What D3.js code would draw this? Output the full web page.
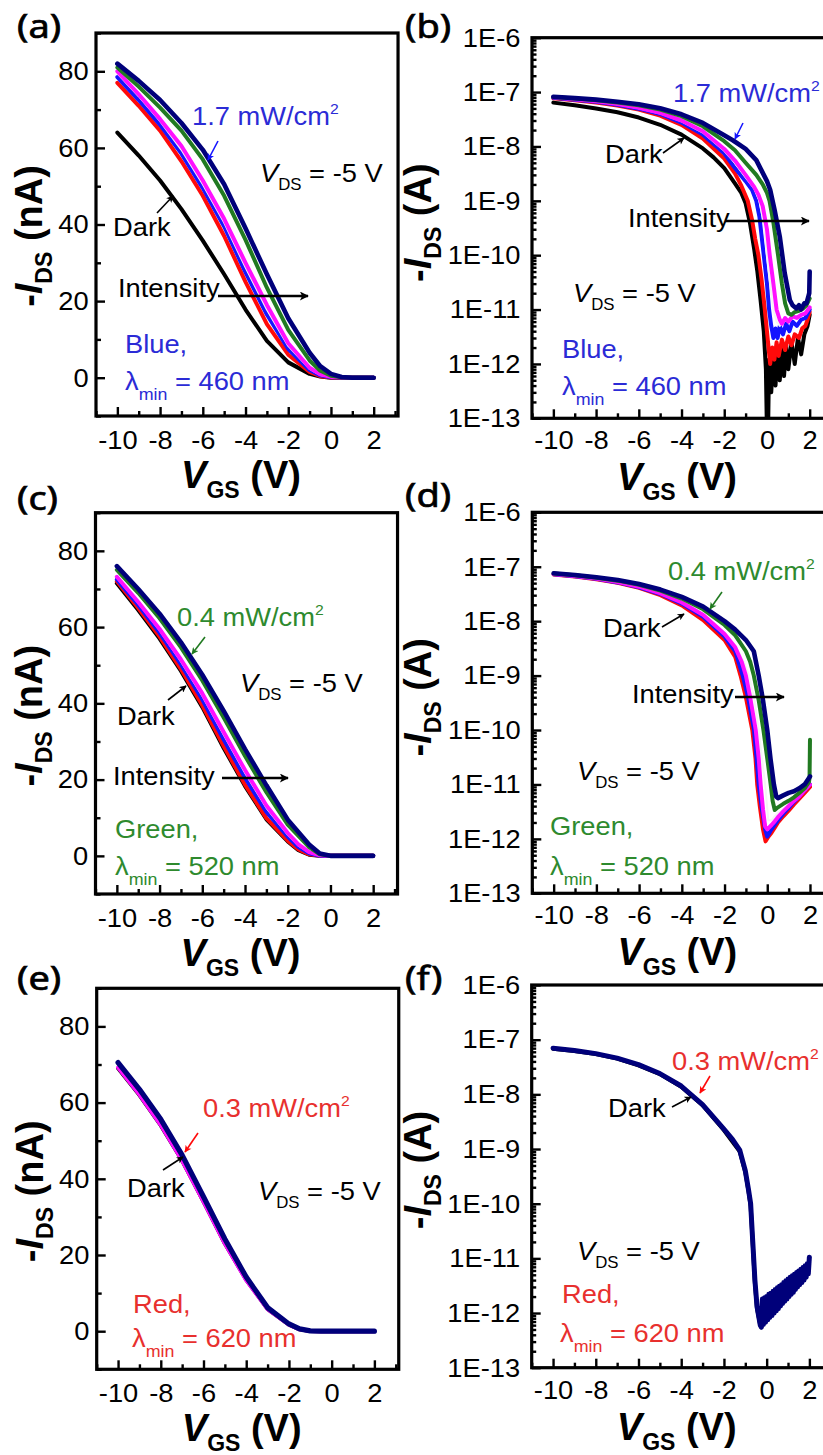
<!DOCTYPE html>
<html><head><meta charset="utf-8">
<script src="https://cdn.jsdelivr.net/npm/d3@7"></script>
<style>body{margin:0;background:#fff}svg text{font-family:"Liberation Sans",Arial,sans-serif}</style>
</head><body>
<svg id="c" width="823" height="1455" xmlns="http://www.w3.org/2000/svg"></svg>
<script>
// ---------------- DATA (V_GS in V; linear panels in nA, log panels in A) ----------------
const xTicks = [-10, -8, -6, -4, -2, 0, 2];
const xMinor = [-11, -9, -7, -5, -3, -1, 1, 3];
const linTicks = [0, 20, 40, 60, 80];
const linMinor = [-10, 10, 30, 50, 70, 90];
const logTicks = [1e-6, 1e-7, 1e-8, 1e-9, 1e-10, 1e-11, 1e-12, 1e-13];

// (a) blue light, linear
const a_black = [[-10,64],[-9,58],[-8,51.5],[-7,44],[-6,35.8],[-5,27],[-4,17.8],[-3,9.6],[-2,4],[-1,1],[-0.5,0.3],[0,0],[2,0]];
const a_red = [[-10,77],[-9,71],[-8,64.5],[-7,56.5],[-6,47.5],[-5,37],[-4,25],[-3,14],[-2,6],[-1,1.5],[-0.5,0.4],[0,0.05],[2,0]];
const a_blue = [[-10,78.5],[-9,72.5],[-8,66],[-7,58.5],[-6,49.5],[-5,39.5],[-4,27.5],[-3,16.5],[-2,7.5],[-1,2],[-0.5,0.6],[0,0.1],[2,0]];
const a_white = [[-10,79.5],[-9,73.5],[-8,67],[-7,59.5],[-6,50.5],[-5,40.5],[-4,28.8],[-3,17.8],[-2,8.3],[-1,2.3],[-0.5,0.7],[0,0.15],[2,0]];
const a_magenta = [[-10,80],[-9,74],[-8,67.5],[-7,60.5],[-6,51.5],[-5,41.5],[-4,30],[-3,19],[-2,9],[-1,2.6],[-0.5,0.9],[0,0.2],[2,0]];
const a_green = [[-10,81],[-9,76],[-8,70.5],[-7,64.5],[-6,57],[-5,47.5],[-4,36],[-3,23.5],[-2,12.5],[-1,4.5],[-0.5,1.8],[0,0.5],[0.5,0.1],[2,0]];
const a_navy = [[-10,82],[-9,77.5],[-8,72.5],[-7,66.5],[-6,59.5],[-5,50.5],[-4,39],[-3,27],[-2,15.5],[-1,6.5],[-0.5,3],[0,1],[0.5,0.2],[1,0],[2,0]];

// (b) blue light, log
const b_black = [[-10,6.4e-8],[-9,5.7e-8],[-8,5.0e-8],[-7,4.25e-8],[-6,3.4e-8],[-5,2.5e-8],[-4,1.65e-8],[-3,9.2e-9],[-2.5,6.3e-9],[-2,4e-9],[-1.5,2.1e-9],[-1.2,1.4e-9],[-1,9e-10],[-0.8,4e-10],[-0.6,1.3e-10],[-0.45,5e-11],[-0.3,1.5e-11],[-0.15,4e-12],[-0.05,8e-13],[0,5e-14],[0.05,5e-14],[0.1,1.2e-12],[0.2,3e-13],[0.3,1.5e-12],[0.4,4e-13],[0.5,1.8e-12],[0.6,5e-13],[0.7,2e-12],[0.8,6e-13],[0.9,2.2e-12],[1.0,8e-13],[1.15,2.5e-12],[1.3,1e-12],[1.45,3e-12],[1.6,1.5e-12],[1.75,3.5e-12],[1.9,5e-12],[2.0,8e-12]];
const b_red = [[-10,7.7e-8],[-9,7.1e-8],[-8,6.45e-8],[-7,5.65e-8],[-6,4.75e-8],[-5,3.7e-8],[-4,2.5e-8],[-3,1.4e-8],[-2,6e-9],[-1.5,3.2e-9],[-1.2,1.9e-9],[-0.9,1e-9],[-0.7,4.5e-10],[-0.55,2e-10],[-0.4,1e-10],[-0.25,3.5e-11],[-0.1,1e-11],[0.05,2.5e-12],[0.15,1e-12],[0.25,2e-12],[0.35,1.2e-12],[0.45,2.5e-12],[0.55,1.4e-12],[0.7,2.8e-12],[0.85,1.8e-12],[1.0,3.2e-12],[1.15,2.2e-12],[1.3,3.5e-12],[1.5,3e-12],[1.65,4.5e-12],[1.8,5e-12],[1.9,6.5e-12],[2.0,9e-12]];
const b_blue = [[-10,7.85e-8],[-9,7.25e-8],[-8,6.6e-8],[-7,5.85e-8],[-6,4.95e-8],[-5,3.95e-8],[-4,2.75e-8],[-3,1.65e-8],[-2,7.5e-9],[-1.5,4e-9],[-1,2.3e-9],[-0.7,1.6e-9],[-0.5,1e-9],[-0.35,5e-10],[-0.15,1e-10],[0,3e-11],[0.1,1e-11],[0.2,5e-12],[0.3,3e-12],[0.4,4.5e-12],[0.5,3e-12],[0.6,5e-12],[0.75,3.5e-12],[0.9,5.5e-12],[1.05,4e-12],[1.2,6e-12],[1.4,5e-12],[1.6,6.5e-12],[1.8,7e-12],[2.0,1e-11]];
const b_white = [[-10,7.95e-8],[-9,7.35e-8],[-8,6.7e-8],[-7,5.95e-8],[-6,5.05e-8],[-5,4.05e-8],[-4,2.9e-8],[-3,1.8e-8],[-2,8.3e-9],[-1.5,5e-9],[-1,2.7e-9],[-0.6,1.7e-9],[-0.35,1e-9],[-0.15,4e-10],[0,1e-10],[0.15,3e-11],[0.3,1e-11],[0.45,6e-12],[0.6,5e-12],[0.8,6.5e-12],[1.0,6e-12],[1.3,7.5e-12],[1.6,8e-12],[2.0,1.05e-11]];
const b_magenta = [[-10,8.0e-8],[-9,7.4e-8],[-8,6.75e-8],[-7,6.05e-8],[-6,5.15e-8],[-5,4.15e-8],[-4,3e-8],[-3,1.9e-8],[-2,9e-9],[-1.5,5.5e-9],[-1,3e-9],[-0.6,1.8e-9],[-0.4,1.3e-9],[-0.2,8e-10],[0,3e-10],[0.13,1e-10],[0.3,3e-11],[0.45,1e-11],[0.6,6.5e-12],[0.7,5.5e-12],[0.85,7e-12],[1.0,6e-12],[1.2,7.5e-12],[1.4,7e-12],[1.6,8e-12],[1.8,8.5e-12],[2.0,1.1e-11]];
const b_green = [[-10,8.1e-8],[-9,7.6e-8],[-8,7.05e-8],[-7,6.45e-8],[-6,5.7e-8],[-5,4.75e-8],[-4,3.6e-8],[-3,2.35e-8],[-2,1.25e-8],[-1.5,8.5e-9],[-1,5e-9],[-0.5,3e-9],[-0.2,2e-9],[0,1.4e-9],[0.12,1e-9],[0.3,4e-10],[0.52,1e-10],[0.7,3e-11],[0.85,1.3e-11],[1.0,8.5e-12],[1.15,8e-12],[1.3,9e-12],[1.5,9.5e-12],[1.7,1.05e-11],[1.85,1.2e-11],[2.0,1.6e-11]];
const b_navy = [[-10,8.2e-8],[-9,7.75e-8],[-8,7.25e-8],[-7,6.65e-8],[-6,5.95e-8],[-5,5.05e-8],[-4,3.9e-8],[-3,2.7e-8],[-2,1.6e-8],[-1.6,1.3e-8],[-1,9e-9],[-0.5,5.6e-9],[0,2.3e-9],[0.15,1.6e-9],[0.36,6.7e-10],[0.6,2.2e-10],[0.83,4.7e-11],[1.07,1.5e-11],[1.2,1.2e-11],[1.38,1.05e-11],[1.5,1.2e-11],[1.6,1.0e-11],[1.75,1.3e-11],[1.85,1.3e-11],[1.95,1.8e-11],[1.98,2e-11],[2.0,5e-11]];

// (c) green light, linear
const c_black = [[-10,71.5],[-9,64.5],[-8,57],[-7,48.5],[-6,39],[-5,28.3],[-4,18.3],[-3,9.6],[-2,3.8],[-1.5,1.5],[-1,0.3],[-0.5,0],[2,0]];
const c_red = [[-10,72],[-9,65],[-8,57.5],[-7,49],[-6,39.5],[-5,28.8],[-4,18.7],[-3,9.9],[-2,4],[-1.5,1.7],[-1,0.4],[-0.5,0],[2,0]];
const c_blue = [[-10,72.5],[-9,65.8],[-8,58.5],[-7,50.2],[-6,41],[-5,30.5],[-4,20.5],[-3,11.5],[-2,5],[-1.5,2.3],[-1,0.7],[-0.5,0.05],[0,0],[2,0]];
const c_white = [[-10,73],[-9,66.4],[-8,59.2],[-7,51],[-6,42],[-5,31.8],[-4,21.8],[-3,12.6],[-2,5.6],[-1.5,2.7],[-1,0.9],[-0.5,0.1],[0,0],[2,0]];
const c_magenta = [[-10,73.2],[-9,66.6],[-8,59.5],[-7,51.5],[-6,42.6],[-5,32.5],[-4,22.5],[-3,13.2],[-2,6],[-1.5,3],[-1,1],[-0.5,0.15],[0,0],[2,0]];
const c_green = [[-10,75],[-9,69],[-8,62.3],[-7,54.7],[-6,46],[-5,36.3],[-4,26.2],[-3,16.7],[-2,8.2],[-1,2.3],[-0.5,0.4],[0,0],[2,0]];
const c_navy = [[-10,76],[-9,70],[-8,63.5],[-7,56],[-6,47.5],[-5,38],[-4,28],[-3,18.5],[-2,9.5],[-1,3],[-0.5,0.6],[0,0],[2,0]];

// (d) green light, log
const d_red = [[-10,7.2e-8],[-9,6.6e-8],[-8,5.9e-8],[-7,5.05e-8],[-6,4.1e-8],[-5,3e-8],[-4,1.95e-8],[-3,1.05e-8],[-2,4.5e-9],[-1.5,2.2e-9],[-1.25,1e-9],[-1.0,4e-10],[-0.7,1e-10],[-0.55,3e-11],[-0.47,1e-11],[-0.35,4e-12],[-0.2,1.5e-12],[-0.08,9e-13],[0.05,1.1e-12],[0.2,1.3e-12],[0.35,1.6e-12],[0.5,2e-12],[0.75,2.6e-12],[1,3.3e-12],[1.25,4.3e-12],[1.5,5.5e-12],[1.75,7e-12],[2,9e-12]];
const d_blue = [[-10,7.3e-8],[-9,6.7e-8],[-8,6.0e-8],[-7,5.15e-8],[-6,4.2e-8],[-5,3.15e-8],[-4,2.1e-8],[-3,1.2e-8],[-2,5.2e-9],[-1.5,2.8e-9],[-1.15,1e-9],[-0.9,4e-10],[-0.62,1e-10],[-0.5,3e-11],[-0.4,1e-11],[-0.25,3.5e-12],[-0.1,1.5e-12],[0,1.1e-12],[0.15,1.4e-12],[0.3,1.7e-12],[0.5,2.2e-12],[0.75,2.9e-12],[1,3.7e-12],[1.25,4.8e-12],[1.5,6e-12],[1.75,7.8e-12],[2,1e-11]];
const d_white = [[-10,7.4e-8],[-9,6.8e-8],[-8,6.1e-8],[-7,5.3e-8],[-6,4.35e-8],[-5,3.3e-8],[-4,2.25e-8],[-3,1.35e-8],[-2,6.2e-9],[-1.5,3.6e-9],[-1.1,1.8e-9],[-0.85,1e-9],[-0.6,3.5e-10],[-0.4,1e-10],[-0.25,3e-11],[-0.1,1e-11],[0.05,2.2e-12],[0.2,2.2e-12],[0.5,3e-12],[1,4.3e-12],[1.5,6.2e-12],[2,1e-11]];
const d_magenta = [[-10,7.35e-8],[-9,6.75e-8],[-8,6.05e-8],[-7,5.25e-8],[-6,4.3e-8],[-5,3.25e-8],[-4,2.2e-8],[-3,1.3e-8],[-2,5.8e-9],[-1.5,3.3e-9],[-1.2,1.8e-9],[-1.0,1e-9],[-0.8,4e-10],[-0.54,1e-10],[-0.4,3e-11],[-0.31,1e-11],[-0.2,3.5e-12],[-0.1,1.7e-12],[0,1.5e-12],[0.2,1.8e-12],[0.35,2.1e-12],[0.5,2.5e-12],[0.75,3.2e-12],[1,4e-12],[1.25,5e-12],[1.5,6e-12],[1.75,7.8e-12],[2,1e-11]];
const d_green = [[-10,7.5e-8],[-9,6.95e-8],[-8,6.3e-8],[-7,5.55e-8],[-6,4.65e-8],[-5,3.65e-8],[-4,2.6e-8],[-3,1.65e-8],[-2,8.5e-9],[-1.5,5.5e-9],[-1,2.8e-9],[-0.8,1.8e-9],[-0.63,1e-9],[-0.4,3.5e-10],[-0.18,1e-10],[0,3e-11],[0.16,1e-11],[0.25,5e-12],[0.35,3.4e-12],[0.5,3.8e-12],[0.75,4.4e-12],[1,5e-12],[1.25,5.8e-12],[1.5,7e-12],[1.75,8.5e-12],[1.95,1.1e-11],[1.98,1.3e-11],[2,6.6e-11]];
const d_navy = [[-10,7.6e-8],[-9,7.05e-8],[-8,6.4e-8],[-7,5.7e-8],[-6,4.8e-8],[-5,3.8e-8],[-4,2.8e-8],[-3,1.85e-8],[-2,1e-8],[-1.5,7e-9],[-1,4.5e-9],[-0.63,2.8e-9],[-0.4,1e-9],[-0.2,3.5e-10],[0,1e-10],[0.15,3e-11],[0.31,1e-11],[0.42,6e-12],[0.5,5.6e-12],[0.75,6.3e-12],[1,7e-12],[1.25,7.5e-12],[1.5,8.5e-12],[1.75,1e-11],[2,1.4e-11]];

// (e) red light, linear
const e_black = [[-10,69],[-9,62],[-8,54],[-7,44.8],[-6,34],[-5,23],[-4,13.5],[-3,5.8],[-2,1.7],[-1.5,0.5],[-1,0.05],[-0.5,0],[2,0]];
const e_magenta = [[-10,69.2],[-9,62.1],[-8,54.1],[-7,44.8],[-6,34],[-5,23],[-4,13.4],[-3,5.8],[-2,1.7],[-1.5,0.5],[-1,0.05],[-0.5,0],[2,0]];
const e_navy = [[-10,70.5],[-9,63.5],[-8,55.6],[-7,46.2],[-6,35.3],[-5,24.2],[-4,14.2],[-3,6.2],[-2,1.9],[-1.5,0.6],[-1,0.1],[-0.5,0],[2,0]];

// (f) red light, log (noisy off-state band read as a dense zig-zag)
const f_black = [[-10,6.8e-8],[-9,6.2e-8],[-8,5.45e-8],[-7,4.5e-8],[-6,3.4e-8],[-5,2.35e-8],[-4,1.38e-8],[-3,6.3e-9],[-2,2.2e-9],[-1.26,9e-10],[-1,3.8e-10],[-0.85,1.7e-10],[-0.75,9e-11],[-0.65,1.8e-11],[-0.55,3.5e-12],[-0.45,1.2e-12],[-0.3,6e-13],[-0.25,5.5e-13]];
const f_navy = [[-10,7e-8],[-9,6.35e-8],[-8,5.55e-8],[-7,4.6e-8],[-6,3.5e-8],[-5,2.4e-8],[-4,1.42e-8],[-3,6.5e-9],[-2,2.3e-9],[-1.6,1.5e-9],[-1.26,9.5e-10],[-1.0,4e-10],[-0.85,1.8e-10],[-0.75,1e-10],[-0.65,2e-11],[-0.55,4e-12],[-0.45,1.3e-12],[-0.3,6e-13],[-0.25,5.5e-13],
  [-0.2,1.8e-12],[-0.15,6.2e-13],[-0.1,1.9e-12],[-0.05,6.8e-13],[0,2e-12],[0.05,7.5e-13],[0.1,2.2e-12],[0.15,8.3e-13],[0.2,2.3e-12],[0.25,9e-13],[0.3,2.5e-12],[0.35,1e-12],[0.4,2.7e-12],[0.45,1.1e-12],[0.5,2.9e-12],[0.55,1.2e-12],[0.6,3.1e-12],[0.65,1.35e-12],[0.7,3.3e-12],[0.75,1.5e-12],[0.8,3.6e-12],[0.85,1.65e-12],[0.9,3.9e-12],[0.95,1.8e-12],[1.0,4.2e-12],[1.05,2e-12],[1.1,4.5e-12],[1.15,2.2e-12],[1.2,4.8e-12],[1.25,2.4e-12],[1.3,5.1e-12],[1.35,2.7e-12],[1.4,5.5e-12],[1.45,3e-12],[1.5,5.9e-12],[1.55,3.3e-12],[1.6,6.3e-12],[1.65,3.6e-12],[1.7,6.8e-12],[1.75,4e-12],[1.8,7.3e-12],[1.85,4.5e-12],[1.9,8e-12],[1.95,5.2e-12],[2.0,1.05e-11]];

// ---------------- STYLE ----------------
const COL = {black:"#000000", red:"#ff0a0a", blue:"#1414ff", white:"#f4f4f4", magenta:"#ff10ff", green:"#217a21", navy:"#00007a"};
const WID = {black:4, red:4, blue:4, white:2, magenta:4, green:4, navy:4.6};
const TXT = {blue:"#2b2bd6", green:"#2e8a2e", red:"#e8302e"};
const SX = 1.05;
const FS = 26;

const svg = d3.select("#c");
const defs = svg.append("defs");
function marker(id, color, len, wid) {
  defs.append("marker").attr("id", id).attr("viewBox", "0 0 10 10").attr("refX", 9).attr("refY", 5)
    .attr("markerUnits", "userSpaceOnUse").attr("markerWidth", len).attr("markerHeight", wid)
    .attr("orient", "auto")
    .append("path").attr("d", "M0,0 L10,5 L0,10 L2.5,5 Z").attr("fill", color);
}
marker("hk", "#000", 12, 9);
marker("sk", "#000", 8, 7);
marker("sb", COL.blue, 8, 7);
marker("sg", COL.green, 8, 7);
marker("sr", COL.red, 8, 7);

function rich(x, y, parts, o = {}) {
  const fs = o.size || FS;
  const sx = o.sx || SX;
  let tr = `translate(${x},${y})`;
  tr += o.rotate ? ` rotate(${o.rotate}) scale(1,${sx})` : ` scale(${sx},1)`;
  const t = svg.append("text").attr("transform", tr).attr("font-size", fs)
    .attr("fill", o.fill || "#000").attr("text-anchor", o.anchor || "start");
  if (o.bold) t.attr("font-weight", "bold");
  if (o.family) t.style("font-family", o.family);
  if (o.stroke) t.attr("stroke", o.fill || "#000").attr("stroke-width", o.stroke);
  let cur = 0;
  parts.forEach(p => {
    if (typeof p === "string") p = {t: p};
    const size = p.size || ((p.sub || p.sup) ? fs * 0.64 : fs);
    const off = p.sub ? (p.off ?? fs * 0.32) : p.sup ? -(p.off ?? fs * 0.42) : 0;
    const ts = t.append("tspan").text(p.t).attr("font-size", size).attr("dy", off - cur);
    if (p.i) ts.attr("font-style", "italic");
    cur = off;
  });
  return t;
}
function arrow(x1, y1, x2, y2, m, color, w) {
  svg.append("line").attr("x1", x1).attr("y1", y1).attr("x2", x2).attr("y2", y2)
    .attr("stroke", color).attr("stroke-width", w).attr("marker-end", `url(#${m})`);
}

// ---------------- PANELS ----------------
const PW = 14 * 21.36;
const panels = [
  {k:"a", log:false, x0:96, y0:33, y1:416, series:[["black",a_black],["red",a_red],["blue",a_blue],["white",a_white],["magenta",a_magenta],["green",a_green],["navy",a_navy]]},
  {k:"b", log:true, x0:532, y0:37.7, y1:418.3, series:[["black",b_black],["red",b_red],["blue",b_blue],["white",b_white],["magenta",b_magenta],["green",b_green],["navy",b_navy]]},
  {k:"c", log:false, x0:95.5, y0:512.7, y1:894, series:[["black",c_black],["red",c_red],["blue",c_blue],["white",c_white],["magenta",c_magenta],["green",c_green],["navy",c_navy]]},
  {k:"d", log:true, x0:532.3, y0:512.3, y1:893.3, series:[["red",d_red],["blue",d_blue],["white",d_white],["magenta",d_magenta],["green",d_green],["navy",d_navy]]},
  {k:"e", log:false, x0:96.7, y0:988.3, y1:1369.3, series:[["black",e_black],["magenta",e_magenta],["navy",e_navy]]},
  {k:"f", log:true, x0:531.7, y0:985, y1:1367.7, series:[["black",f_black],["navy",f_navy]]}
];

panels.forEach(p => {
  const xs = d3.scaleLinear().domain([-11, 3]).range([p.x0, p.x0 + PW]);
  const ys = p.log ? d3.scaleLog().domain([1e-13, 1e-6]).range([p.y1, p.y0])
                   : d3.scaleLinear().domain([-10, 90]).range([p.y1, p.y0]);
  const cid = "clip" + p.k;
  defs.append("clipPath").attr("id", cid).append("rect")
    .attr("x", p.x0).attr("y", p.y0).attr("width", PW + 3).attr("height", p.y1 - p.y0);
  const line = d3.line().x(d => xs(d[0])).y(d => ys(Math.max(d[1], p.log ? 1e-15 : -20)));
  const g = svg.append("g").attr("clip-path", `url(#${cid})`);
  p.series.forEach(([c, data]) => {
    let w = WID[c];
    if (p.k === "e" && c === "navy") w = 5.2;
    if (p.k === "f" && c === "navy") w = 5;
    g.append("path").datum(data).attr("d", line).attr("fill", "none")
      .attr("stroke", COL[c]).attr("stroke-width", w)
      .attr("stroke-linejoin", "round").attr("stroke-linecap", "round");
  });

  // axes (ticks inward)
  const ax = svg.append("g").attr("transform", `translate(0,${p.y1})`);
  ax.call(d3.axisBottom(xs).tickValues(xTicks).tickSizeInner(-9).tickSizeOuter(0).tickPadding(p.log ? 12.5 : 14.5).tickFormat(d => String(d)));
  ax.append("g").call(d3.axisBottom(xs).tickValues(xMinor).tickSizeInner(-5).tickSizeOuter(0).tickFormat(""));
  const ay = svg.append("g").attr("transform", `translate(${p.x0},0)`);
  if (p.log) {
    ay.call(d3.axisLeft(ys).tickValues(logTicks).tickSizeInner(-9).tickSizeOuter(0).tickPadding(11)
      .tickFormat(d => "1E" + Math.round(Math.log10(d))));
    const minor = [];
    for (let e = -13; e < -6; e++) for (let m = 2; m <= 9; m++) minor.push(m * Math.pow(10, e));
    ay.append("g").call(d3.axisLeft(ys).tickValues(minor).tickSizeInner(-4.5).tickSizeOuter(0).tickFormat(""));
  } else {
    ay.call(d3.axisLeft(ys).tickValues(linTicks).tickSizeInner(-9).tickSizeOuter(0).tickPadding(7).tickFormat(d => String(d)));
    ay.append("g").call(d3.axisLeft(ys).tickValues(linMinor).tickSizeInner(-5).tickSizeOuter(0).tickFormat(""));
  }
  [ax, ay].forEach(a => {
    a.selectAll(".domain").remove();
    a.selectAll("line").attr("stroke", "#000").attr("stroke-width", 2.4);
    a.selectAll("text").attr("font-size", FS).attr("fill", "#000")
      .style("font-family", '"Liberation Sans", Arial, sans-serif')
      .attr("transform", `scale(${SX},1)`);
    a.attr("font-family", null).attr("font-size", null);
  });
  // frame
  svg.append("rect").attr("x", p.x0).attr("y", p.y0).attr("width", PW + 3).attr("height", p.y1 - p.y0)
    .attr("fill", "none").attr("stroke", "#000").attr("stroke-width", 3.2);

  // titles
  const left = !p.log;
  rich(p.x0 + 145, p.y1 + 72, [{t:"V", i:true}, {t:"GS", sub:true, off:10, size:23}, " (V)"], {size:38, bold:true, anchor:"middle", sx:1.0});
  rich(left ? p.x0 - 54 : p.x0 - 101, p.y0 + (left ? 203 : 185),
    ["-", {t:"I", i:true}, {t:"DS", sub:true, off:10, size:23}, " (" + (left ? "nA" : "A") + ")"],
    {size:38, bold:true, anchor:"middle", rotate:-90, sx:1.0});
});

// panel labels
[["(a)",17,38],["(b)",405,38],["(c)",17,510],["(d)",405,507],["(e)",17,990],["(f)",405,990]].forEach(([t,x,y]) =>
  rich(x, y, [t], {size:33, sx:1.15, family:'"Noto Sans", sans-serif', stroke:0.7}));

// ---------------- ANNOTATIONS ----------------
const VDS = [{t:"V", i:true}, {t:"DS", sub:true, off:8, size:16}, " = -5 V"];
const lam = nm => ["λ", {t:"min", sub:true, off:10, size:17}, ` = ${nm} nm`];
const pw = v => [v + " mW/cm", {t:"2", sup:true, off:11, size:15}];

// (a)
rich(192, 125, pw("1.7"), {fill:TXT.blue});
arrow(218, 141, 208, 160, "sb", COL.blue, 1.6);
rich(260, 182, VDS);
rich(113, 236, ["Dark"]);
arrow(157, 213, 173, 196, "sk", "#000", 1.6);
rich(118, 297, ["Intensity"]);
arrow(218, 296, 308, 296, "hk", "#000", 2.4);
rich(125, 353, ["Blue,"], {fill:TXT.blue});
rich(125, 390, lam(460), {fill:TXT.blue});

// (b)
rich(673, 102, pw("1.7"), {fill:TXT.blue});
arrow(743, 123, 735, 139, "sb", COL.blue, 1.6);
rich(605, 163, ["Dark"]);
arrow(663, 153, 684, 138, "sk", "#000", 1.6);
rich(628, 227, ["Intensity"]);
arrow(725, 221, 809, 221, "hk", "#000", 2.4);
rich(573, 302, VDS);
rich(562, 358, ["Blue,"], {fill:TXT.blue});
rich(562, 395, lam(460), {fill:TXT.blue});

// (c)
rich(177, 626, pw("0.4"), {fill:TXT.green});
arrow(205, 637, 192, 654, "sg", COL.green, 1.6);
rich(240, 692, VDS);
rich(117, 725, ["Dark"]);
arrow(168, 700, 186, 686, "sk", "#000", 1.6);
rich(113, 785, ["Intensity"]);
arrow(222, 778, 288, 778, "hk", "#000", 2.4);
rich(115, 838, ["Green,"], {fill:TXT.green});
rich(115, 875, lam(520), {fill:TXT.green});

// (d)
rich(668, 580, pw("0.4"), {fill:TXT.green});
arrow(722, 592, 710, 609, "sg", COL.green, 1.6);
rich(603, 637, ["Dark"]);
arrow(662, 627, 684, 614, "sk", "#000", 1.6);
rich(632, 703, ["Intensity"]);
arrow(735, 697, 784, 697, "hk", "#000", 2.4);
rich(577, 780, VDS);
rich(550, 835, ["Green,"], {fill:TXT.green});
rich(550, 875, lam(520), {fill:TXT.green});

// (e)
rich(203, 1117, pw("0.3"), {fill:TXT.red});
arrow(198, 1133, 185, 1152, "sr", COL.red, 1.6);
rich(127, 1197, ["Dark"]);
arrow(163, 1170, 183, 1157, "sk", "#000", 1.6);
rich(258, 1200, VDS);
rich(133, 1313, ["Red,"], {fill:TXT.red});
rich(132, 1347, lam(620), {fill:TXT.red});

// (f)
rich(672, 1070, pw("0.3"), {fill:TXT.red});
arrow(710, 1076, 700, 1093, "sr", COL.red, 1.6);
rich(608, 1117, ["Dark"]);
arrow(672, 1107, 691, 1097, "sk", "#000", 1.6);
rich(577, 1260, VDS);
rich(562, 1303, ["Red,"], {fill:TXT.red});
rich(560, 1342, lam(620), {fill:TXT.red});
</script>
</body></html>
